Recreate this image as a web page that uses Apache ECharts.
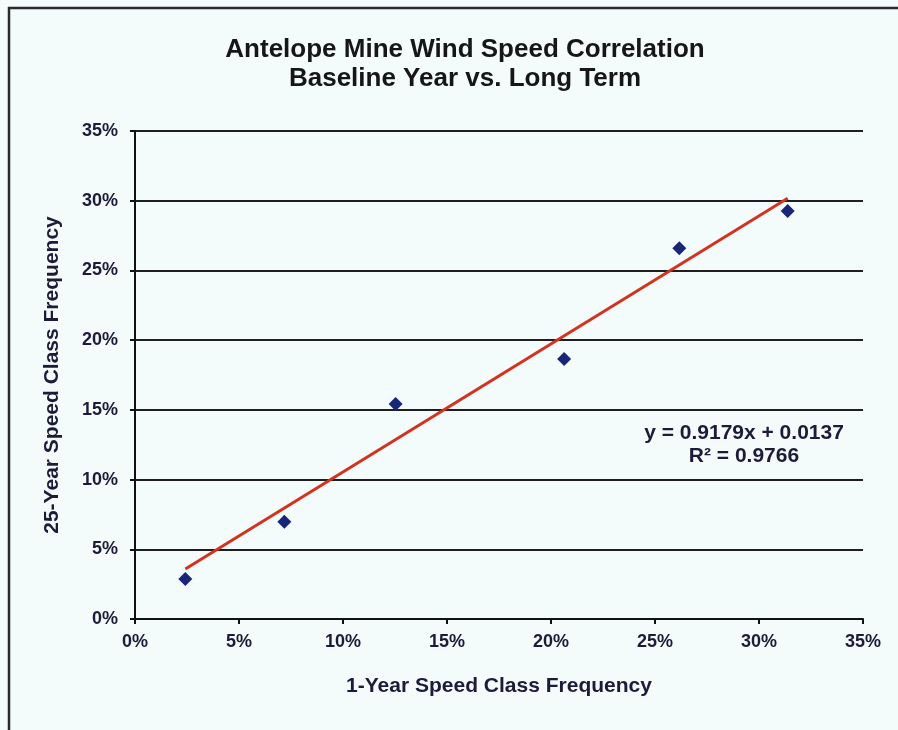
<!DOCTYPE html>
<html><head><meta charset="utf-8">
<script src="https://cdn.jsdelivr.net/npm/echarts@6/dist/echarts.min.js"></script>
<style>html,body{margin:0;padding:0;background:#f3fbfb;}#c{width:898px;height:730px;}</style>
</head><body><div id="c"></div>
<script>
const titleLines = ['Antelope Mine Wind Speed Correlation', 'Baseline Year vs. Long Term'];
const xAxisName = '1-Year Speed Class Frequency';
const yAxisName = '25-Year Speed Class Frequency';
const xValues = [2.42, 7.18, 12.53, 20.63, 26.17, 31.38];
const yValues = [2.87, 6.98, 15.42, 18.65, 26.59, 29.27];
const slope = 0.9179;
const intercept = 0.0137;
const rSquared = 0.9766;
const axisTicks = [0, 5, 10, 15, 20, 25, 30, 35];

const points = xValues.map((x, i) => [x, yValues[i]]);
const xMin = Math.min(...xValues), xMax = Math.max(...xValues);
const trend = [xMin, xMax].map(x => [x, (slope * x / 100 + intercept) * 100]);

const chart = echarts.init(document.getElementById('c'));
const font = '"Liberation Sans", Arial, sans-serif';
const txtColor = '#1c1c38';
const axisCommon = {
  min: axisTicks[0], max: axisTicks[axisTicks.length - 1], interval: 5,
  axisLine: { show: true, lineStyle: { color: '#111', width: 2 } },
  axisTick: { show: true, length: 5, lineStyle: { color: '#111', width: 2 } },
  axisLabel: { formatter: v => v + '%', color: txtColor, fontFamily: font, fontWeight: 'bold', fontSize: 18 },
  nameLocation: 'middle',
  nameTextStyle: { color: txtColor, fontFamily: font, fontWeight: 'bold', fontSize: 21 }
};
chart.setOption({
  backgroundColor: '#f3fbfb',
  animation: false,
  grid: { left: 135, right: 35, top: 131, bottom: 111 },
  xAxis: Object.assign({}, axisCommon, {
    type: 'value', name: xAxisName, nameGap: 57,
    splitLine: { show: false },
    axisLabel: Object.assign({}, axisCommon.axisLabel, { margin: 14 })
  }),
  yAxis: Object.assign({}, axisCommon, {
    type: 'value', name: yAxisName, nameGap: 72,
    splitLine: { show: true, lineStyle: { color: '#1e1e1e', width: 2 } },
    axisLabel: Object.assign({}, axisCommon.axisLabel, { margin: 17 })
  }),
  series: [
    { type: 'line', data: trend, symbol: 'none', lineStyle: { color: '#d2331f', width: 3 }, z: 2 },
    { type: 'scatter', data: points, symbol: 'diamond', symbolSize: 14, itemStyle: { color: '#18267a', opacity: 1 }, z: 3 }
  ],
  graphic: [
    { type: 'rect', shape: { x: 9, y: 8, width: 1000, height: 1000 }, style: { fill: 'none', stroke: '#2a2a2a', lineWidth: 2.5 }, silent: true, z: -1 },
    { type: 'text', x: 465, y: 50, style: { text: titleLines[0], textAlign: 'center', textVerticalAlign: 'middle', font: 'bold 26px ' + font, fill: '#161616' } },
    { type: 'text', x: 465, y: 79, style: { text: titleLines[1], textAlign: 'center', textVerticalAlign: 'middle', font: 'bold 26px ' + font, fill: '#161616' } },
    { type: 'text', x: 744, y: 433, style: { text: 'y = ' + slope.toFixed(4) + 'x + ' + intercept.toFixed(4), textAlign: 'center', textVerticalAlign: 'middle', font: 'bold 21px ' + font, fill: txtColor } },
    { type: 'text', x: 744, y: 456, style: { text: 'R² = ' + rSquared.toFixed(4), textAlign: 'center', textVerticalAlign: 'middle', font: 'bold 21px ' + font, fill: txtColor } }
  ]
});
</script></body></html>
